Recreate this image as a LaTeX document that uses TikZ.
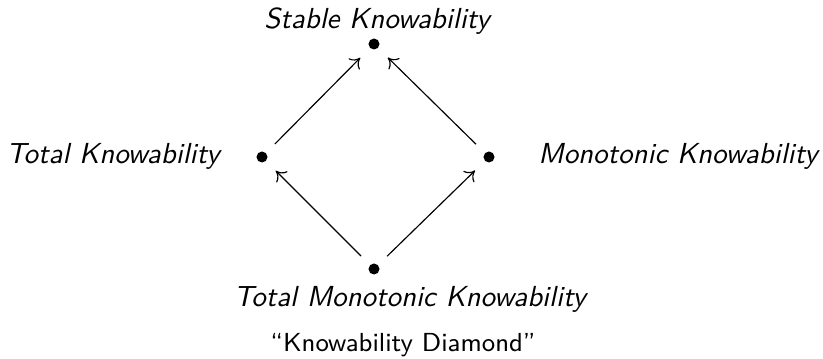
\documentclass[tikz,border=0pt]{standalone}
\usetikzlibrary{arrows.meta}
\begin{document}
\begin{tikzpicture}[x=0.345pt,y=-0.345pt,
  dot/.style={circle,fill=black,inner sep=0pt,minimum size=3.8pt},
  lbl/.style={font=\sffamily\itshape,inner sep=0pt,anchor=base},
  captxt/.style={font=\sffamily\small,inner sep=0pt,anchor=base},
  arr/.style={-{Computer Modern Rightarrow[length=3.2pt,width=5.4pt]},line width=0.4pt,shorten >=4.6pt,shorten <=4.2pt}]
\useasboundingbox (0,0) rectangle (823,359);
\node[dot] (s) at (374,44) {};
\node[dot] (t) at (262,157) {};
\node[dot] (m) at (489,157) {};
\node[dot] (b) at (374,269) {};
\node[lbl] (sl) at (377,29) {Stable Knowability};
\node[lbl] (tl) at (113,164) {Total Knowability};
\node[lbl] (ml) at (678,164) {Monotonic Knowability};
\node[lbl] (bl) at (410,307) {Total Monotonic Knowability};
\node[captxt] (c) at (403,352) {``Knowability Diamond''};
\draw[arr] (b) -- (t);
\draw[arr] (b) -- (m);
\draw[arr] (t) -- (s);
\draw[arr] (m) -- (s);
\end{tikzpicture}
\end{document}
